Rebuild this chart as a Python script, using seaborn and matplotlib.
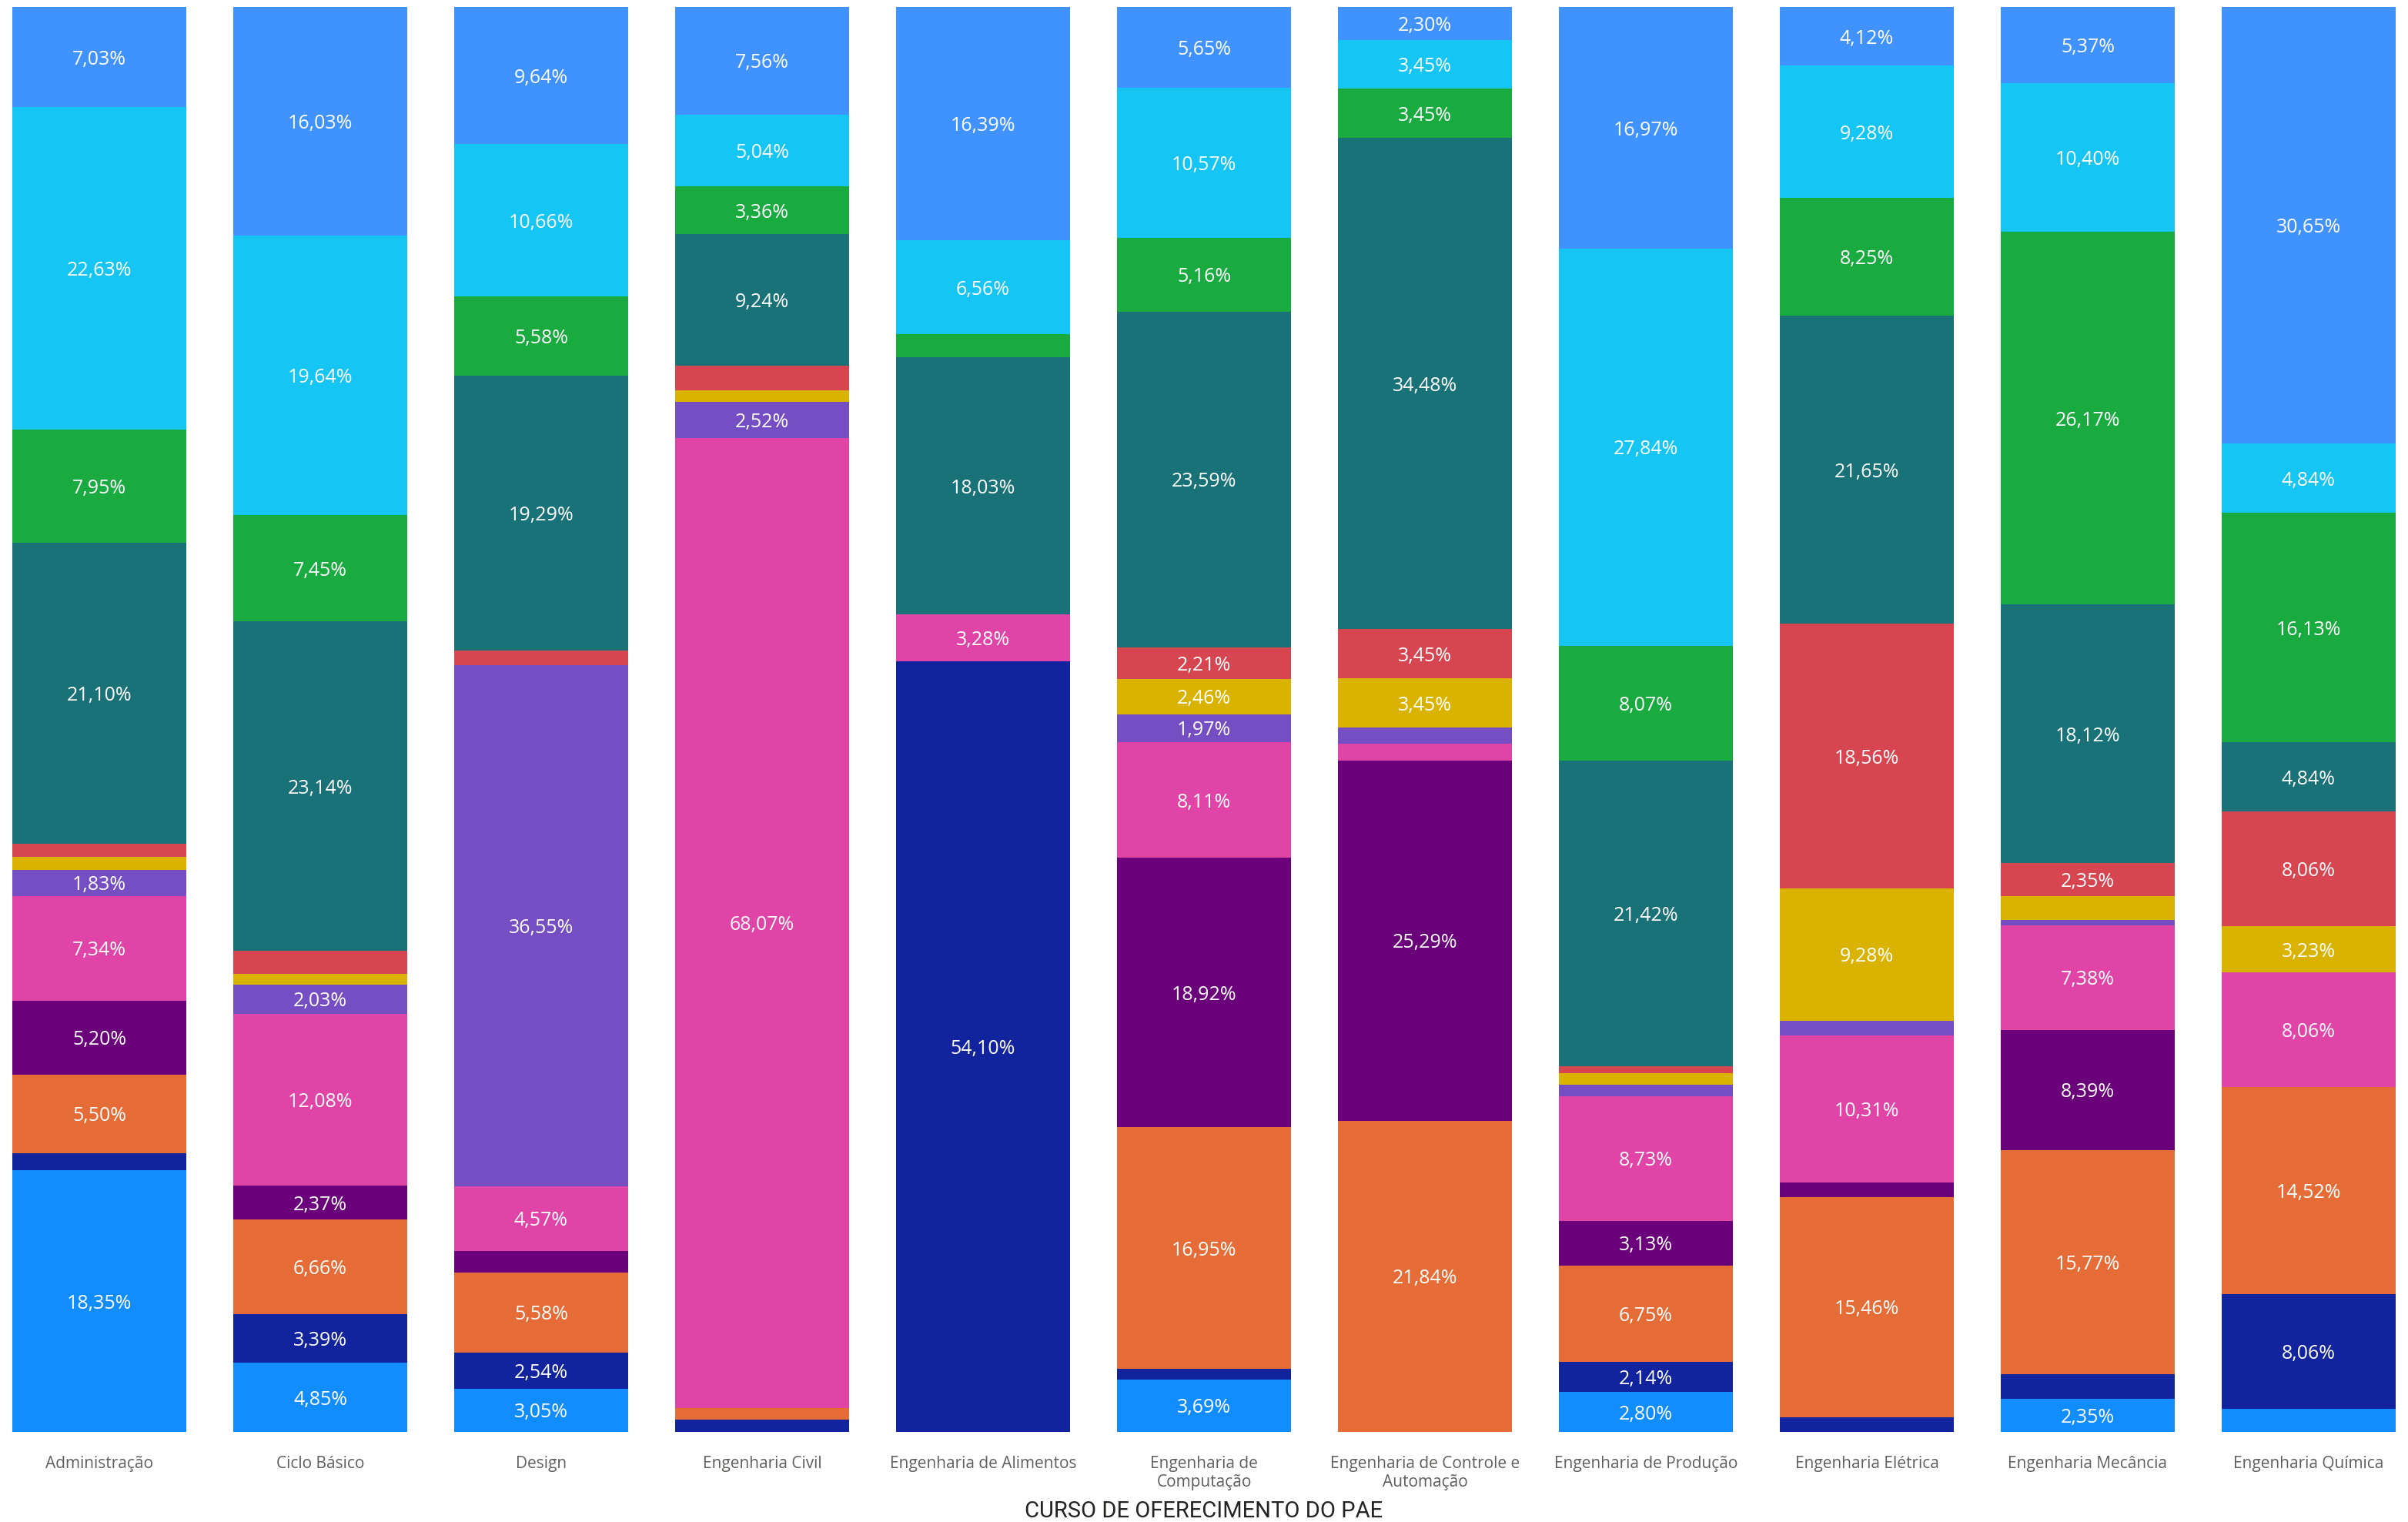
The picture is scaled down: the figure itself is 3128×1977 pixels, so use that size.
import numpy as np
import pandas as pd
import matplotlib
matplotlib.use('Agg')
import matplotlib.pyplot as plt
import seaborn as sns

# ── Dados (percentuais por curso, empilhados de baixo para cima) ─────────────
cursos = [
    "Administração", "Ciclo Básico", "Design", "Engenharia Civil",
    "Engenharia de Alimentos", "Engenharia de\nComputação",
    "Engenharia de Controle e\nAutomação", "Engenharia de Produção",
    "Engenharia Elétrica", "Engenharia Mecância", "Engenharia Química",
]

seg_azul = [18.35, 4.85, 3.05, 0, 0, 3.69, 0, 2.80, 0, 2.35, 1.61]
seg_azul_escuro = [1.22, 3.39, 2.54, 0.84, 54.10, 0.74, 0, 2.14, 1.03, 1.68, 8.06]
seg_laranja = [5.50, 6.66, 5.58, 0.84, 0, 16.95, 21.84, 6.75, 15.46, 15.77, 14.52]
seg_roxo_escuro = [5.20, 2.37, 1.52, 0, 0, 18.92, 25.29, 3.13, 1.03, 8.39, 0]
seg_rosa = [7.34, 12.08, 4.57, 68.07, 3.28, 8.11, 1.15, 8.73, 10.31, 7.38, 8.06]
seg_roxo = [1.83, 2.03, 36.55, 2.52, 0, 1.97, 1.15, 0.82, 1.03, 0.34, 0]
seg_amarelo = [0.92, 0.76, 0, 0.84, 0, 2.46, 3.45, 0.82, 9.28, 1.68, 3.23]
seg_vermelho = [0.92, 1.60, 1.02, 1.68, 0, 2.21, 3.45, 0.49, 18.56, 2.35, 8.06]
seg_verde_agua = [21.10, 23.14, 19.29, 9.24, 18.03, 23.59, 34.48, 21.42, 21.65, 18.12, 4.84]
seg_verde = [7.95, 7.45, 5.58, 3.36, 1.64, 5.16, 3.45, 8.07, 8.25, 26.17, 16.13]
seg_ciano = [22.63, 19.64, 10.66, 5.04, 6.56, 10.57, 3.45, 27.84, 9.28, 10.40, 4.84]
seg_azul_topo = [7.03, 16.03, 9.64, 7.56, 16.39, 5.65, 2.30, 16.97, 4.12, 5.37, 30.65]

camadas = [seg_azul, seg_azul_escuro, seg_laranja, seg_roxo_escuro, seg_rosa,
           seg_roxo, seg_amarelo, seg_vermelho, seg_verde_agua, seg_verde,
           seg_ciano, seg_azul_topo]

# paleta padrão do Power BI
cores = ["#118DFF", "#12239E", "#E66C37", "#6B007B", "#E044A7", "#744EC2",
         "#D9B300", "#D64550", "#197278", "#1AAB40", "#15C6F4", "#4092FF"]

sns.set_theme(style="white")
plt.rcParams['font.family'] = ['Open Sans', 'DejaVu Sans']

vals = np.array(camadas, dtype=float)
vals = vals / vals.sum(axis=0) * 100  # gráfico 100% empilhado
acum = np.cumsum(vals, axis=0)

fig = plt.figure(figsize=(31.28, 19.77), dpi=100)
ax = fig.add_axes([0, 117 / 1977, 1, 1851 / 1977])

# desenha do total para baixo: cada camada cobre a anterior
for i in range(len(camadas) - 1, -1, -1):
    df = pd.DataFrame({"curso": cursos, "valor": acum[i]})
    sns.barplot(data=df, x="curso", y="valor", order=cursos, color=cores[i],
                saturation=1, width=0.79, linewidth=0, ax=ax)

# rótulos de dados
for i, serie in enumerate(camadas):
    for j, v in enumerate(serie):
        if v >= 1.8:
            y = acum[i, j] - vals[i, j] / 2
            ax.text(j, y, f"{v:.2f}%".replace(".", ","), ha="center",
                    va="center_baseline", color="white", fontsize=18)

ax.set_xlim(-129 / 287, (3128 - 129) / 287)
ax.set_ylim(0, 100)
ax.set_yticks([])
ax.set_xlabel("")
ax.set_ylabel("")
ax.tick_params(axis="x", length=0, pad=22, labelsize=15, labelcolor="#605E5C")
for s in ax.spines.values():
    s.set_visible(False)

fig.text(0.5, 14 / 1977, "CURSO DE OFERECIMENTO DO PAE", ha="center",
         va="center", fontsize=21, color="#252423", family=["Roboto", "DejaVu Sans"])

fig.savefig("out.png", dpi=100)
